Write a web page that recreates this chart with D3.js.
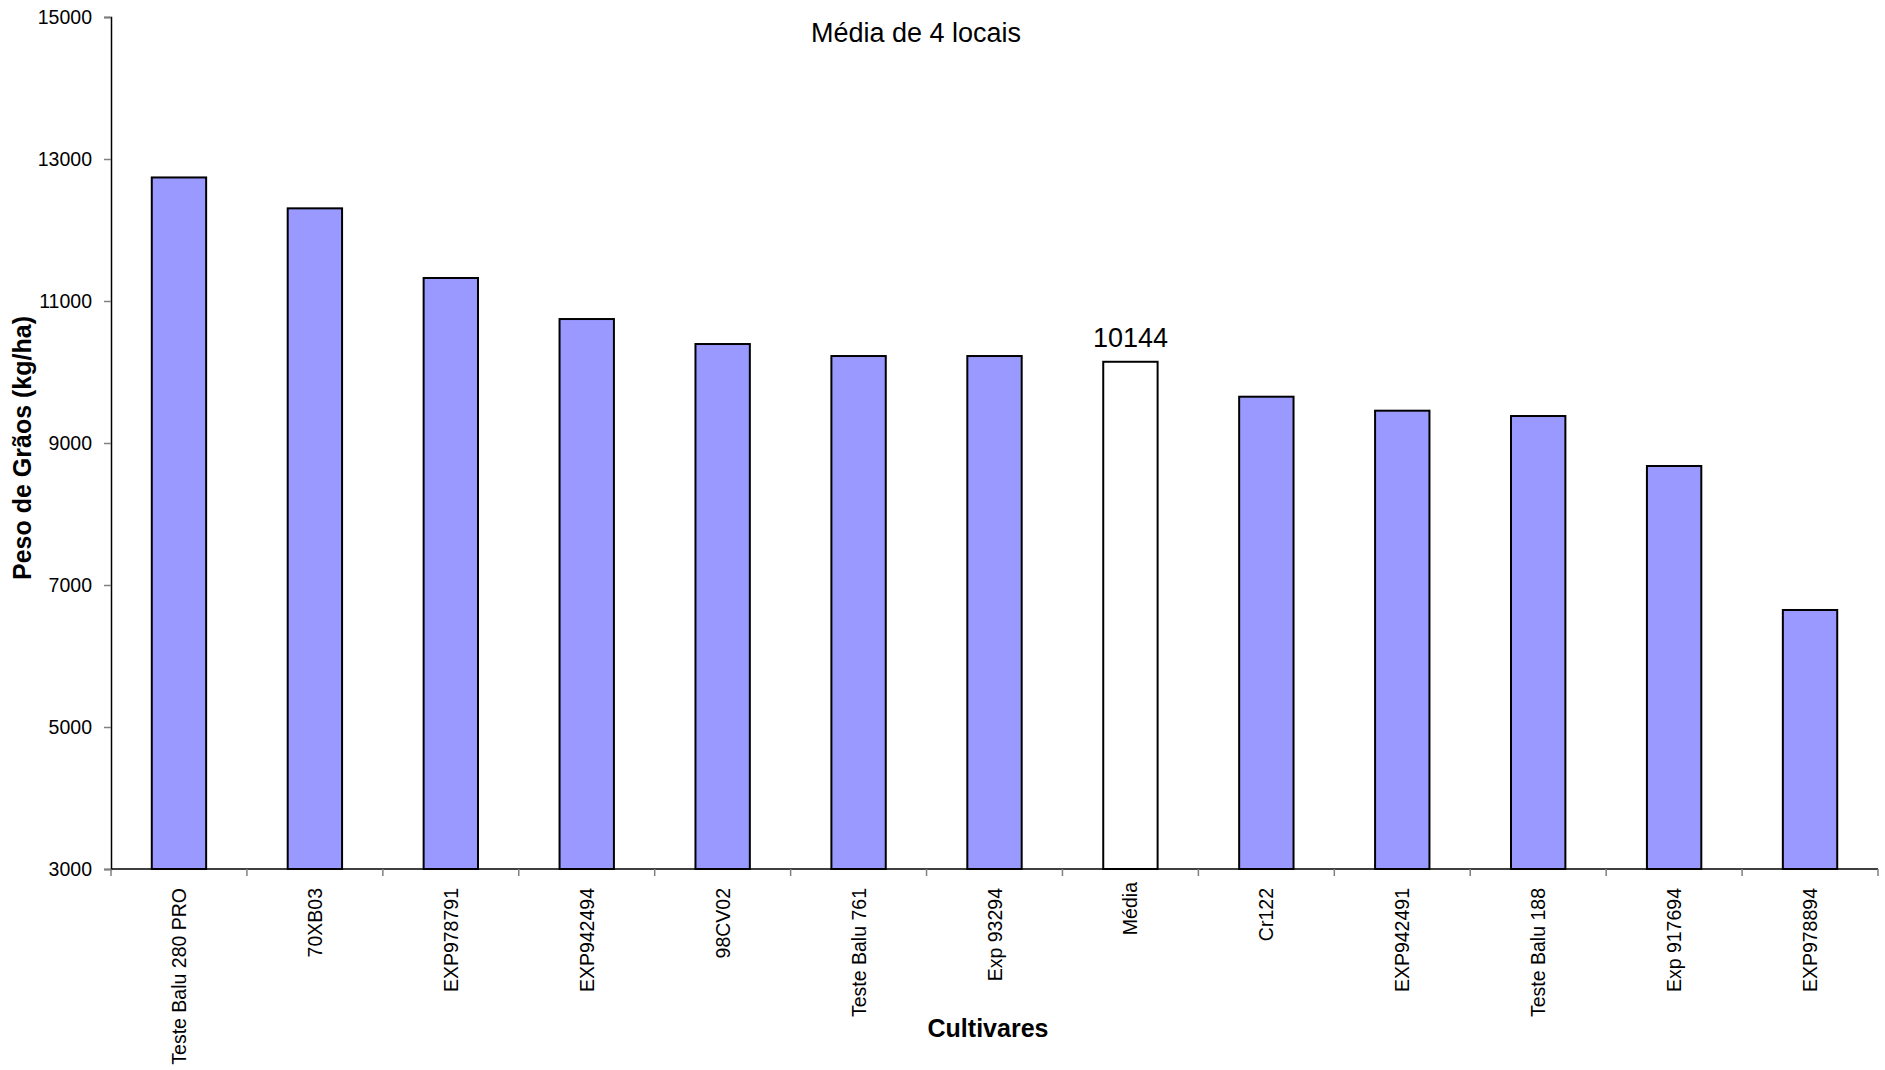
<!DOCTYPE html>
<html>
<head>
<meta charset="utf-8">
<script src="https://cdn.jsdelivr.net/npm/d3@7"></script>
<style>
  html, body { margin: 0; padding: 0; background: #fff; }
  svg { display: block; font-family: "Liberation Sans", Arial, sans-serif; }
</style>
</head>
<body>
<svg id="chart" width="1885" height="1070"></svg>
<script>
// Grain yield per cultivar, average of 4 sites
const cultivars = ["Teste Balu 280 PRO", "70XB03", "EXP978791", "EXP942494", "98CV02",
  "Teste Balu 761", "Exp 93294", "Média", "Cr122", "EXP942491", "Teste Balu 188",
  "Exp 917694", "EXP978894"];
const yieldKgHa = [12740, 12305, 11324, 10746, 10394, 10225, 10225, 10144, 9652, 9455, 9380, 8676, 6648];
const yTicks = [3000, 5000, 7000, 9000, 11000, 13000, 15000];
const meanLabel = "Média";
const chartTitle = "Média de 4 locais";

(function draw() {
  const svg = d3.select("#chart");
  const plotLeft = 111, plotRight = 1878, plotTop = 17, plotBottom = 869;

  const x = d3.scaleBand().domain(cultivars).range([plotLeft, plotRight])
    .paddingInner(0.6).paddingOuter(0.3);
  const y = d3.scaleLinear().domain([3000, 15000]).range([plotBottom, plotTop]);

  // bars
  svg.append("g").selectAll("rect")
    .data(cultivars.map((c, i) => ({ c, v: yieldKgHa[i] })))
    .join("rect")
    .attr("x", d => x(d.c))
    .attr("y", d => y(d.v))
    .attr("width", x.bandwidth())
    .attr("height", d => y(3000) - y(d.v))
    .attr("fill", d => d.c === meanLabel ? "#ffffff" : "#9999ff")
    .attr("stroke", "#000")
    .attr("stroke-width", 2);

  // value label for the mean bar
  const mi = cultivars.indexOf(meanLabel);
  svg.append("text")
    .attr("x", x(meanLabel) + x.bandwidth() / 2)
    .attr("y", y(yieldKgHa[mi]) - 15)
    .attr("text-anchor", "middle")
    .attr("font-size", 27)
    .attr("fill", "#000")
    .text(yieldKgHa[mi]);

  // y axis
  const yAxis = svg.append("g").attr("transform", `translate(${plotLeft},0)`)
    .call(d3.axisLeft(y).tickValues(yTicks).tickSize(7).tickPadding(12).tickFormat(d3.format("d")));
  yAxis.select(".domain").attr("stroke", "#000").attr("stroke-width", 1.5);
  yAxis.selectAll(".tick line").attr("stroke", "#808080").attr("stroke-width", 1.5);
  yAxis.selectAll(".tick text").attr("font-size", 19.5).attr("fill", "#000")
    .attr("font-family", "Liberation Sans, Arial, sans-serif");

  // x axis line and category separators
  const step = x.step();
  const x0 = x.range()[0];
  svg.append("line").attr("x1", plotLeft).attr("x2", plotRight).attr("y1", plotBottom).attr("y2", plotBottom)
    .attr("stroke", "#000").attr("stroke-width", 1.5);
  svg.append("g").selectAll("line")
    .data(d3.range(cultivars.length + 1))
    .join("line")
    .attr("x1", i => x0 + i * step).attr("x2", i => x0 + i * step)
    .attr("y1", plotBottom).attr("y2", plotBottom + 7)
    .attr("stroke", "#808080").attr("stroke-width", 1.5);

  // rotated category labels
  svg.append("g").selectAll("text")
    .data(cultivars)
    .join("text")
    .attr("transform", d => `translate(${x(d) + x.bandwidth() / 2 + 7},${plotBottom + (d === meanLabel ? 13 : 19)}) rotate(-90)`)
    .attr("text-anchor", "end")
    .attr("font-size", 19.5)
    .attr("fill", "#000")
    .text(d => d);

  // title
  svg.append("text")
    .attr("x", 916).attr("y", 42)
    .attr("text-anchor", "middle")
    .attr("font-size", 27)
    .attr("fill", "#000")
    .text(chartTitle);

  // axis titles
  svg.append("text")
    .attr("transform", `translate(31,${(plotTop + plotBottom) / 2 + 5}) rotate(-90)`)
    .attr("text-anchor", "middle")
    .attr("font-size", 25).attr("font-weight", "bold")
    .attr("fill", "#000")
    .text("Peso de Grãos (kg/ha)");

  svg.append("text")
    .attr("x", 988).attr("y", 1037)
    .attr("text-anchor", "middle")
    .attr("font-size", 25).attr("font-weight", "bold")
    .attr("fill", "#000")
    .text("Cultivares");
})();
</script>
</body>
</html>
